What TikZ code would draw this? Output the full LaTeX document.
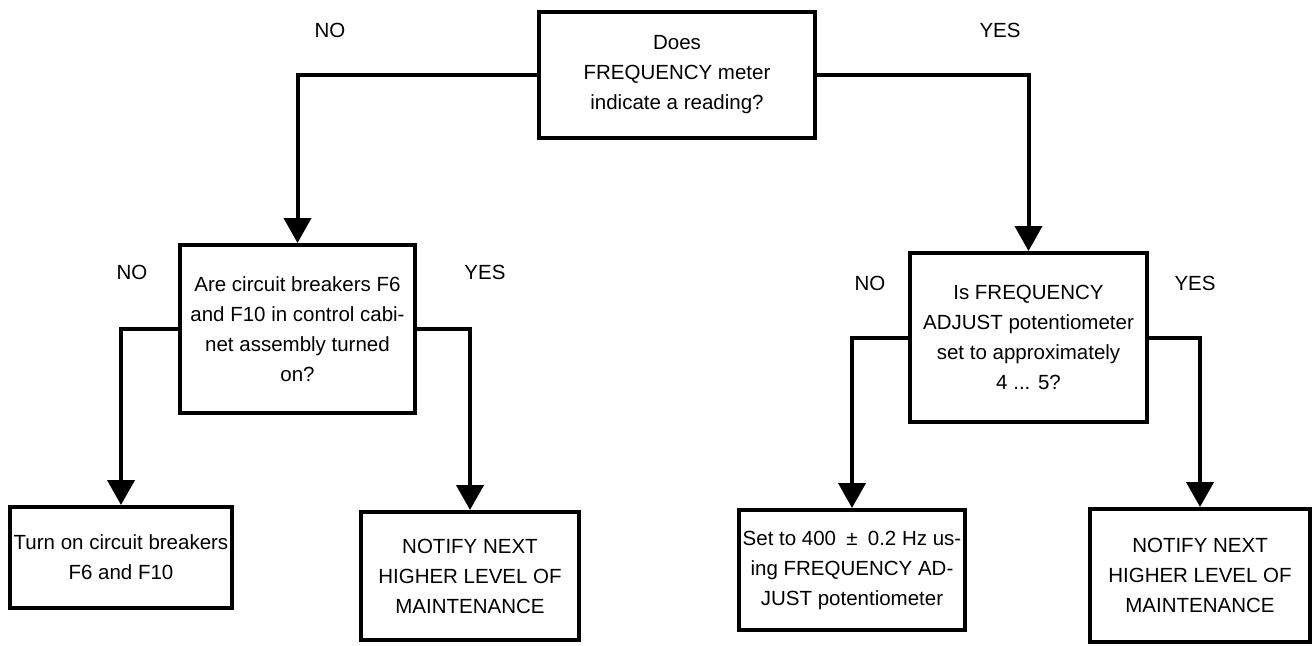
\documentclass[tikz,border=0pt]{standalone}
\usepackage{fontspec}
\setmainfont{Liberation Sans}
\usetikzlibrary{arrows.meta}

\begin{document}
\begin{tikzpicture}[x=0.5pt,y=-0.5pt]

  \tikzset{main node/.style={rectangle, draw, line width=2pt,
  		inner sep=0pt, align=center,
  		font=\fontsize{10.25}{15}\selectfont}, }
  \tikzset{main label/.style={font=\fontsize{10.25}{15}\selectfont}, }
  \tikzset{linea/.style={line width=2pt,
  		-{Triangle[length=12.5pt,width=13.5pt]}}, }
\useasboundingbox (0,0) rectangle (1315,645);
\node[main node, minimum width=138pt, minimum height=63pt] (1) at (677,75)
  {Does\\FREQUENCY meter\\indicate a reading?};
\node[main node, minimum width=117.5pt, minimum height=84pt] (2) at (297.5,329)
  {Are circuit breakers F6\\and F10 in control cabi-\\net assembly turned\\on?};
\node[main node, minimum width=118.5pt, minimum height=84.5pt] (3) at (1028.5,337.5)
  {Is FREQUENCY\\ADJUST potentiometer\\set to approximately\\4 ... 5?};
\node[main node, minimum width=111pt, minimum height=50.5pt] (4) at (121,557.5)
  {Turn on circuit breakers\\F6 and F10};
\node[main node, minimum width=109pt, minimum height=64pt] (5) at (470,576)
  {NOTIFY NEXT\\HIGHER LEVEL OF\\MAINTENANCE};
\node[main node, minimum width=113pt, minimum height=60pt] (6) at (852,570)
  {Set to 400\enspace±\enspace0.2 Hz us-\\ing FREQUENCY AD-\\JUST potentiometer};
\node[main node, minimum width=110pt, minimum height=66.5pt] (7) at (1200,575.5)
  {NOTIFY NEXT\\HIGHER LEVEL OF\\MAINTENANCE};

\node[main label] (no1) at (330,30) {NO};
\node[main label] (yes1) at (1000,30) {YES};
\node[main label] (no2) at (132,272) {NO};
\node[main label] (yes2) at (485,272) {YES};
\node[main label] (no3) at (870,283) {NO};
\node[main label] (yes3) at (1195,283) {YES};

\foreach \x /\y in{1/2,1/3,2/4,2/5,3/6,3/7}
  \draw[linea] (\x) -| (\y);
%%
\end{tikzpicture}
\end{document}
